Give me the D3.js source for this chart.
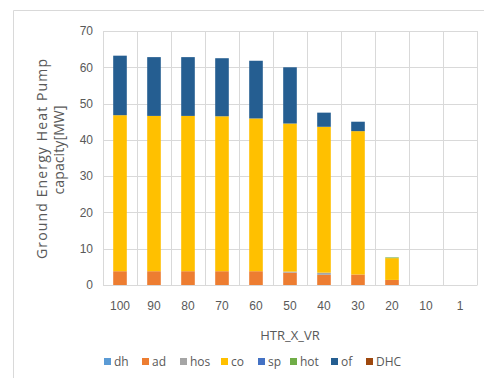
<!DOCTYPE html>
<html><head><meta charset="utf-8">
<script src="https://cdn.jsdelivr.net/npm/d3@7"></script>
<style>body{margin:0;background:#fff}svg{display:block;font-family:"Open Sans",sans-serif}</style>
</head><body><svg id="c" width="484" height="378"></svg>
<script>
const categories = ["100","90","80","70","60","50","40","30","20","10","1"];
const seriesNames = ["dh","ad","hos","co","sp","hot","of","DHC"];
const dh  = [0,0,0,0,0,0,0,0,0,0,0];
const ad  = [3.8,3.8,3.8,3.8,3.8,3.4,2.8,2.9,1.4,0,0];
const hos = [0,0,0,0,0,0.3,0.6,0,0,0,0];
const co  = [43.0,42.8,42.8,42.7,42.1,40.8,40.2,39.5,6.0,0,0];
const sp  = [0,0,0,0,0,0,0,0,0,0,0];
const hot = [0,0,0,0,0,0,0,0,0.2,0,0];
const of  = [16.4,16.2,16.2,16.0,15.9,15.5,3.9,2.6,0,0,0];
const DHC = [0,0,0,0,0,0,0,0,0,0,0];
const yTicks = [0,10,20,30,40,50,60,70];
const colors = ["#5b9bd5","#ed7d31","#a5a5a5","#ffc000","#4472c4","#70ad47","#255e91","#9e480e"];
const xTitle = "HTR_X_VR";
const yTitle = ["Ground Energy Heat Pump","capacity[MW]"];

const seriesVals = [dh,ad,hos,co,sp,hot,of,DHC];
const rows = categories.map((c,i)=>{const r={cat:c}; seriesNames.forEach((s,j)=>r[s]=seriesVals[j][i]); return r;});
const stack = d3.stack().keys(seriesNames)(rows);

const svg = d3.select("#c");
const L=103,R=477,T=31,B=285;
const xg = d3.scaleBand().domain(categories).range([L,R]);
const y = d3.scaleLinear().domain([0,70]).range([B,T]);
const grid="#d9d9d9", txt="#595959";

// frame
svg.append("line").attr("x1",13.5).attr("x2",484).attr("y1",10.5).attr("y2",10.5).attr("stroke","#d9d9d9");
svg.append("line").attr("x1",13.5).attr("x2",13.5).attr("y1",10.5).attr("y2",378).attr("stroke","#d9d9d9");

// gridlines
svg.append("g").selectAll("line").data(yTicks).join("line")
  .attr("x1",L).attr("x2",R).attr("y1",d=>Math.round(y(d))+0.5).attr("y2",d=>Math.round(y(d))+0.5)
  .attr("stroke",grid);
const vb = categories.map(c=>xg(c)).concat([R]);
svg.append("g").selectAll("line").data(vb).join("line")
  .attr("x1",d=>Math.round(d)+0.5).attr("x2",d=>Math.round(d)+0.5).attr("y1",T).attr("y2",B)
  .attr("stroke",grid);

// bars
svg.append("g").selectAll("g").data(stack).join("g").attr("fill",(d,i)=>colors[i])
  .selectAll("rect").data(d=>d).join("rect")
  .attr("x",d=>xg(d.data.cat)+xg.bandwidth()*0.3)
  .attr("width",xg.bandwidth()*0.4)
  .attr("y",d=>y(d[1])).attr("height",d=>Math.max(0,y(d[0])-y(d[1])));

// axes
const ya = d3.axisLeft(y).tickValues(yTicks).tickSize(0).tickPadding(10);
const yg = svg.append("g").attr("transform",`translate(${L},0)`).call(ya);
yg.select(".domain").remove();
yg.selectAll("text").attr("fill",txt).style("font-size","12px").attr("x",-10);
const xa = d3.axisBottom(xg).tickSize(0).tickPadding(16);
const xgG = svg.append("g").attr("transform",`translate(0,${B})`).call(xa);
xgG.select(".domain").attr("stroke","#d9d9d9");
xgG.selectAll("text").attr("fill",txt).style("font-size","12px");

// titles
svg.append("text").attr("x",(L+R)/2).attr("y",340).attr("text-anchor","middle")
  .attr("fill",txt).style("font-size","13px").text(xTitle);
svg.append("text").attr("transform","translate(47,159) rotate(-90)")
  .attr("text-anchor","middle").attr("fill",txt).style("font-size","14px")
  .attr("textLength",200).attr("lengthAdjust","spacing").text(yTitle[0]);
svg.append("text").attr("transform","translate(64,150) rotate(-90)")
  .attr("text-anchor","middle").attr("fill",txt).style("font-size","14px")
  .attr("textLength",89).attr("lengthAdjust","spacing").text(yTitle[1]);

// legend
const legX=[104,142,180,221,258,290,331,366];
const lg = svg.append("g").selectAll("g").data(seriesNames).join("g")
  .attr("transform",(d,i)=>`translate(${legX[i]},362)`);
lg.append("rect").attr("x",0).attr("y",-4).attr("width",7).attr("height",7).attr("fill",(d,i)=>colors[i]);
lg.append("text").attr("x",10).attr("y",4).attr("fill",txt).style("font-size","12px").text(d=>d);
</script></body></html>
